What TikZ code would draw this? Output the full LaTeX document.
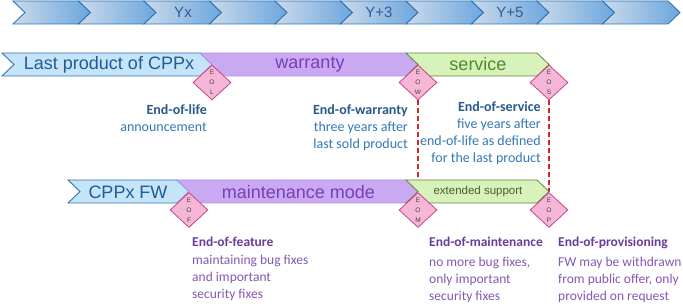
\documentclass[tikz,border=0pt]{standalone}
\usepackage{fontspec}
\setmainfont{Carlito}
\newfontfamily\bandfont{Liberation Sans}
\usepackage{xcolor}
\usepackage{tikz}
\usetikzlibrary{shapes.geometric, positioning, backgrounds}

\definecolor{yearlight}{HTML}{CBDAEA}
\definecolor{yeardark}{HTML}{6CA6DE}
\definecolor{yearline}{HTML}{2E75B6}
\definecolor{yeartext}{HTML}{2F5F98}
\definecolor{lifefill}{HTML}{C6E4F7}
\definecolor{lifetext}{HTML}{1F5B98}
\definecolor{warfill}{HTML}{C9AAF2}
\definecolor{warline}{HTML}{B393E6}
\definecolor{wartext}{HTML}{7A3DB8}
\definecolor{servfill}{HTML}{D8F2BC}
\definecolor{servline}{HTML}{5F8535}
\definecolor{servtext}{HTML}{4F8A2B}
\definecolor{exttext}{HTML}{4A5E2A}
\definecolor{msfill}{HTML}{F6B6D6}
\definecolor{msline}{HTML}{C2478A}
\definecolor{bluehead}{HTML}{285A8C}
\definecolor{bluebody}{HTML}{3477B8}
\definecolor{purplehead}{HTML}{6A3D9A}
\definecolor{purplebody}{HTML}{8757B5}
\definecolor{deadred}{HTML}{D42424}

% chevron: left x, right x, top y, style
\newcommand{\chevpath}[4]{%
  \path[#4] ({#1},{#3}) -- ({#2},{#3}) -- ++(12,11.5) -- ++(-12,11.5)
    -- ({#1},{#3+23}) -- ++(12,-11.5) -- cycle;}

\begin{document}
\begin{tikzpicture}[
  x=1pt, y=-1pt,
  yearstep/.style={left color=yearlight, right color=yeardark, draw=yearline, line width=0.9pt},
  lifeband/.style={fill=lifefill, draw=yearline, line width=0.9pt},
  warband/.style={fill=warfill, draw=warline, line width=0.6pt},
  servband/.style={fill=servfill, draw=servline, line width=0.8pt},
  bandlabel/.style={font=\bandfont\fontsize{18}{18}\selectfont, inner sep=0},
  yearlabel/.style={font=\bandfont\fontsize{15}{15}\selectfont, inner sep=0, text=yeartext},
  milestone/.style={diamond, draw=msline, fill=msfill, line width=0.8pt, minimum width=38pt, minimum height=35pt, inner sep=0, align=center, text=black!75, font=\bandfont\fontsize{6.5}{10}\selectfont},
  note/.style={inner sep=0, font=\fontsize{14}{17}\selectfont},
  lownote/.style={note, font=\fontsize{13.5}{17}\selectfont, anchor=north west, align=left, text=purplebody},
  deadline/.style={draw=deadred, line width=2pt, dash pattern=on 5pt off 3pt}
]
  \useasboundingbox (0,0) rectangle (683,307);

  % year scale
  \foreach \i in {0,...,9}
    \chevpath{13+65.5*\i}{13+65.5*(\i+1)}{1}{yearstep};
  \node[yearlabel] (yx) at (183,12.5) {Yx};
  \node[yearlabel] (y3) at (379,12.5) {Y+3};
  \node[yearlabel] (y5) at (510,12.5) {Y+5};

  % product row
  \chevpath{2}{200}{53}{lifeband};
  \chevpath{200}{406}{53}{warband};
  \chevpath{406}{537}{53}{servband};
  \node[bandlabel, text=lifetext] (lastprod) at (109,64.5) {Last product of CPPx};
  \node[bandlabel, text=wartext] (warranty) at (310,64.5) {warranty};
  \node[bandlabel, text=servtext] (service) at (478,64.5) {service};

  % firmware row
  \chevpath{68}{177}{180}{lifeband};
  \chevpath{177}{406}{180}{warband};
  \chevpath{406}{537}{180}{servband};
  \node[bandlabel, text=lifetext] (fw) at (128,192) {CPPx FW};
  \node[bandlabel, text=wartext] (maint) at (298.5,192) {maintenance mode};
  \node[bandlabel, font=\bandfont\fontsize{11.5}{11.5}\selectfont, text=exttext] (ext) at (478,192) {extended support};

  % milestones
  \node[milestone] (eol) at (212,82.5) {E\\O\\L};
  \node[milestone] (eow) at (418,82.5) {E\\O\\W};
  \node[milestone] (eos) at (549,82.5) {E\\O\\S};
  \node[milestone] (eof) at (189,210) {E\\O\\F};
  \node[milestone] (eom) at (418,210) {E\\O\\M};
  \node[milestone] (eop) at (549,210) {E\\O\\P};

  \begin{scope}[on background layer]
    \fill[white] (0,0) rectangle (683,307);
    \draw[deadline] (eow.south) -- (eom.north);
    \draw[deadline] (eos.south) -- (eop.north);
  \end{scope}

  % notes
  \node[note, anchor=north east, align=right, text=bluebody] (eolnote) at (207,104)
    {{\color{bluehead}\textbf{End-of-life}}\\announcement};
  \node[note, anchor=north east, align=right, text=bluebody] (eownote) at (408,104)
    {{\color{bluehead}\textbf{End-of-warranty}}\\three years after\\last sold product};
  \node[note, anchor=north east, align=right, text=bluebody] (eosnote) at (541,101.5)
    {{\color{bluehead}\textbf{End-of-service}}\\five years after\\end-of-life as defined\\for the last product};
  \node[lownote] (eofnote) at (192,237)
    {{\color{purplehead}\textbf{End-of-feature}}\\[1pt]maintaining bug fixes\\and important\\security fixes};
  \node[lownote] (eomnote) at (429,237)
    {{\color{purplehead}\textbf{End-of-maintenance}}\\[3pt]no more bug fixes,\\only important\\security fixes};
  \node[lownote] (eopnote) at (558,237)
    {{\color{purplehead}\textbf{End-of-provisioning}}\\[3pt]FW may be withdrawn\\from public offer, only\\provided on request};
\end{tikzpicture}
\end{document}
